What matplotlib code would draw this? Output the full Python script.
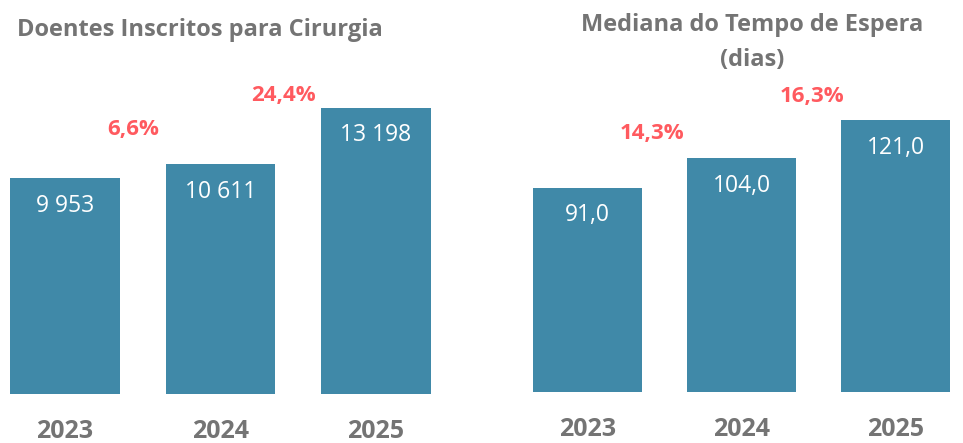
import matplotlib.pyplot as plt

years = ["2023", "2024", "2025"]
inscritos = [9953, 10611, 13198]
inscritos_labels = ["9 953", "10 611", "13 198"]
inscritos_var = ["6,6%", "24,4%"]
mediana = [91.0, 104.0, 121.0]
mediana_labels = ["91,0", "104,0", "121,0"]
mediana_var = ["14,3%", "16,3%"]

BAR = "#4089a8"
RED = "#ff5a5f"
GREY = "#747474"
FONT = "Open Sans"

W, H = 963, 443
fig = plt.figure(figsize=(W / 100, H / 100), dpi=100)


def panel(x0, x1, y_base, xlim, ylim, vals, labels, var, var_pos):
    ax = fig.add_axes([x0 / W, (H - y_base) / H, (x1 - x0) / W, y_base / H])
    ax.bar(range(3), vals, width=0.707, color=BAR, zorder=2)
    ax.set_xlim(*xlim)
    ax.set_ylim(*ylim)
    for s in ax.spines.values():
        s.set_visible(False)
    ax.set_yticks([])
    ax.set_xticks(range(3))
    ax.set_xticklabels(years, fontsize=18, fontweight="bold", color=GREY,
                       family=FONT)
    ax.tick_params(axis="x", length=0, pad=18)
    for i, (v, lab) in enumerate(zip(vals, labels)):
        ax.annotate(lab, (i, v), xytext=(0, -20), textcoords="offset points",
                    ha="center", va="center", color="white", fontsize=16.5,
                    family=FONT)
    for txt, (px, py) in zip(var, var_pos):
        ax.text(px, py, txt, ha="center", va="center", color=RED,
                fontsize=16, fontweight="bold", family=FONT)
    return ax


panel(0, 480, 394, (-65 / 155.5, 415 / 155.5), (0, 394 * 46.1),
      inscritos, inscritos_labels, inscritos_var,
      [(0.437, 265 * 46.1), (1.408, 298 * 46.1)])
panel(480, 963, 392, (-107.5 / 154, 375.5 / 154), (0, 392 * 0.445),
      mediana, mediana_labels, mediana_var,
      [(0.419, 258 * 0.445), (1.458, 295 * 0.445)])

fig.text(200 / W, 1 - 30 / H, "Doentes Inscritos para Cirurgia", ha="center",
         va="center", fontsize=17, fontweight="bold", color=GREY, family=FONT)
fig.text(752 / W, 1 - 25 / H, "Mediana do Tempo de Espera", ha="center",
         va="center", fontsize=17, fontweight="bold", color=GREY, family=FONT)
fig.text(752 / W, 1 - 60 / H, "(dias)", ha="center",
         va="center", fontsize=17, fontweight="bold", color=GREY, family=FONT)

fig.savefig("out.png", dpi=100)
